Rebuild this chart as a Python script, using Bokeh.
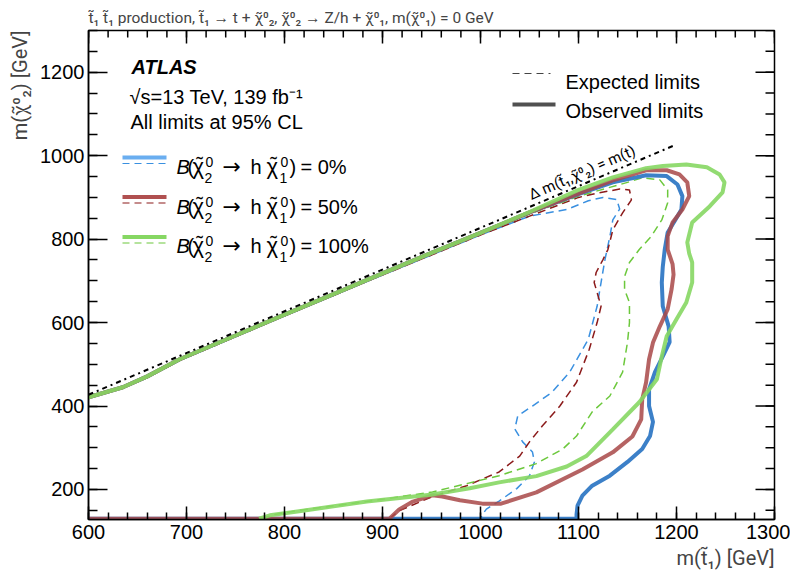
import math
from bokeh.plotting import figure
from bokeh.models import Range1d, Label, FixedTicker, Title
from bokeh.embed import file_html
from bokeh.resources import INLINE

FONT = "Liberation Sans"
FONT_T = "Roboto"   # for strings with combining tildes

# ---------------- data (GeV) ----------------
x_ticks = [600, 700, 800, 900, 1000, 1100, 1200, 1300]
x_minor = list(range(600, 1301, 20))
y_ticks = [200, 400, 600, 800, 1000, 1200]
y_minor = list(range(150, 1301, 50))

kin_x = [600, 1198]
kin_y = [427, 1025]

obs0_x = [600, 635, 660, 693, 750, 800, 850, 900, 950, 1000, 1050, 1100, 1135, 1169, 1190, 1201, 1206,
          1205, 1198, 1191, 1188, 1186, 1185, 1186, 1192, 1193, 1186, 1178, 1172, 1172, 1176, 1173, 1165,
          1150, 1132, 1114, 1104, 1099, 1098, 1098, 600]
obs0_y = [421, 445, 471, 512, 569, 619, 668, 718, 767, 815, 864, 908, 936, 953, 951, 931, 903,
          871, 843, 816, 775, 734, 696, 639, 591, 553, 519, 481, 440, 400, 362, 328, 297,
          266, 233, 209, 185, 161, 140, 130, 130]

obs50_x = [600, 907, 917, 931, 951, 961, 979, 1002, 1021, 1057, 1104, 1135, 1155, 1164, 1165, 1169,
           1172, 1176, 1183, 1191, 1195, 1197, 1196, 1191, 1191, 1196, 1206, 1213, 1211, 1203, 1190,
           1169, 1135, 1100, 1050, 1000, 950, 900, 850, 800, 750, 693, 660, 635, 600]
obs50_y = [130, 130, 152, 171, 186, 183, 174, 166, 166, 193, 248, 289, 327, 368, 416, 457,
           512, 552, 591, 632, 680, 715, 740, 775, 807, 840, 871, 903, 936, 955, 965,
           965, 941, 909, 864, 815, 767, 718, 668, 619, 569, 512, 471, 445, 421]

obs100_x = [774, 785, 815, 884, 951, 989, 1019, 1057, 1088, 1108, 1135, 1162, 1180, 1185, 1190, 1200,
            1210, 1216, 1216, 1213, 1211, 1216, 1234, 1247, 1249, 1244, 1231, 1210, 1186, 1169, 1135,
            1100, 1050, 1000, 950, 900, 850, 800, 750, 693, 660, 635, 600]
obs100_y = [130, 138, 148, 171, 188, 203, 217, 232, 255, 280, 344, 409, 464, 519, 567, 608,
            648, 696, 744, 765, 792, 840, 879, 912, 936, 955, 972, 979, 975, 970, 948,
            918, 865, 815, 767, 718, 668, 619, 569, 512, 471, 445, 421]

exp0_x = [600, 635, 660, 693, 750, 800, 850, 900, 950, 1000, 1050, 1088, 1110, 1125, 1139, 1142, 1135,
          1132, 1127, 1123, 1119, 1110, 1091, 1073, 1053, 1038, 1035, 1043, 1053, 1055, 1050, 1037,
          1019, 1006, 1001, 1001, 1012]
exp0_y = [419, 443, 468, 509, 566, 616, 665, 714, 762, 810, 855, 871, 892, 900, 895, 872, 846,
          806, 751, 696, 639, 560, 481, 433, 400, 376, 345, 314, 290, 266, 233, 202,
          172, 153, 137, 130, 130]

exp50_x = [907, 917, 951, 986, 1019, 1040, 1050, 1063, 1081, 1098, 1111, 1119, 1123, 1119, 1116, 1118,
           1125, 1130, 1135, 1145, 1154, 1152, 1142, 1121, 1100, 1050, 1000, 950, 900, 850, 800, 750,
           693, 660, 635, 600]
exp50_y = [130, 149, 183, 209, 242, 280, 314, 352, 400, 457, 536, 600, 639, 672, 696, 720,
           751, 775, 822, 863, 894, 918, 920, 911, 900, 855, 810, 762, 714, 665, 616, 566,
           509, 468, 443, 419]

exp100_x = [777, 790, 815, 884, 951, 1019, 1057, 1084, 1098, 1114, 1132, 1145, 1150, 1152, 1152, 1147,
            1147, 1152, 1162, 1174, 1185, 1191, 1191, 1183, 1165, 1150, 1100, 1050, 1000, 950, 900,
            850, 800, 750, 693, 660, 635, 600]
exp100_y = [130, 140, 150, 171, 194, 233, 262, 297, 328, 386, 424, 481, 553, 600, 648, 679,
            710, 744, 775, 806, 846, 887, 918, 942, 947, 936, 903, 860, 812, 764, 716,
            667, 618, 568, 510, 469, 444, 420]

branching = ["0%", "50%", "100%"]

BLUE, RED, GREEN = "#3c80c8", "#a84848", "#86d763"
BLUE_D, RED_D, GREEN_D = "#3a90e0", "#8b1a1a", "#6cc83c"
BLUE_L, RED_L, GREEN_L = "#6aaef0", "#b05050", "#86d763"

chi2 = "\u03c7\u0303\u2070\u2082"
chi1 = "\u03c7\u0303\u2070\u2081"
t1 = "t\u0303\u2081"

# ---------------- figure ----------------
p = figure(frame_width=686, frame_height=489,
           x_range=Range1d(600, 1300), y_range=Range1d(128, 1300),
           output_backend="svg", toolbar_location=None,
           min_border_left=88, min_border_right=16, min_border_top=30, min_border_bottom=30)
p.xgrid.visible = False
p.ygrid.visible = False
p.outline_line_color = "black"
p.outline_line_width = 1.5
p.border_fill_color = "white"

p.title.text = f"{t1} {t1} production, {t1} \u2192 t + {chi2}, {chi2} \u2192 Z/h + {chi1}, m({chi1}) = 0 GeV"
p.title.text_font = FONT_T
p.title.text_font_size = "15.5px"
p.title.text_font_style = "normal"
p.title.align = "left"
p.title.standoff = 8
p.title.offset = 0

for ax, ticks, minor, mj, mn in [(p.xaxis[0], x_ticks, x_minor, 13, 7), (p.yaxis[0], y_ticks, y_minor, 19, 9)]:
    ax.ticker = FixedTicker(ticks=ticks, minor_ticks=minor)
    ax.major_tick_in = mj
    ax.major_tick_out = 0
    ax.minor_tick_in = mn
    ax.minor_tick_out = 0
    ax.axis_line_width = 1.5
    ax.major_tick_line_width = 1.5
    ax.minor_tick_line_width = 1.5
    ax.major_label_text_font = FONT
    ax.major_label_text_font_size = "20px"
    ax.major_label_text_color = "black"
p.xaxis[0].major_label_standoff = 5
p.yaxis[0].major_label_standoff = 4

# axis titles, right/top aligned as in ROOT
p.add_layout(Title(text=f"m({t1}) [GeV]", align="right", text_font=FONT_T, text_font_size="20px",
                   text_font_style="normal", standoff=4, offset=0), "below")
p.add_layout(Title(text=f"m({chi2}) [GeV]", align="right", text_font=FONT_T, text_font_size="20px",
                   text_font_style="normal", standoff=11, offset=0), "left")

PX_X = 0.98            # px per GeV along x
PX_Y = 489 / 1172      # px per GeV along y


# screen px -> data helpers (layout only)
def dx(px):
    return 600 + (px - 89) / PX_X


def dy(py):
    return 128 + (520 - py) / PX_Y


# mirrored inward ticks on top and right edges
top_y, right_x = 1300, 1300
p.segment(x0=x_ticks, y0=[top_y] * len(x_ticks), x1=x_ticks, y1=[top_y - 13 / PX_Y] * len(x_ticks),
          line_color="black", line_width=1.5)
p.segment(x0=x_minor, y0=[top_y] * len(x_minor), x1=x_minor, y1=[top_y - 7 / PX_Y] * len(x_minor),
          line_color="black", line_width=1.5)
p.segment(x0=[right_x] * len(y_ticks), y0=y_ticks, x1=[right_x - 19 / PX_X] * len(y_ticks), y1=y_ticks,
          line_color="black", line_width=1.5)
p.segment(x0=[right_x] * len(y_minor), y0=y_minor, x1=[right_x - 9 / PX_X] * len(y_minor), y1=y_minor,
          line_color="black", line_width=1.5)

DASH = "8 5"
p.line(exp0_x, exp0_y, line_color=BLUE_D, line_width=1.5, line_dash=DASH)
p.line(exp50_x, exp50_y, line_color=RED_D, line_width=1.5, line_dash=DASH)
p.line(exp100_x, exp100_y, line_color=GREEN_D, line_width=1.5, line_dash=DASH)

p.line(obs0_x, obs0_y, line_color=BLUE, line_width=4)
p.line(obs50_x, obs50_y, line_color=RED, line_width=4, line_alpha=0.85)
p.line(obs100_x, obs100_y, line_color=GREEN, line_width=4, line_alpha=0.9)

p.line(kin_x, kin_y, line_color="black", line_width=2, line_dash="5 4 2 4")


def lab(text, px, py, size="20px", align="left", baseline="alphabetic", angle=0.0, style="normal", font=FONT):
    p.add_layout(Label(x=dx(px), y=dy(py), text=text, text_font=font, text_font_size=size,
                       text_align=align, text_baseline=baseline, angle=angle,
                       text_font_style=style, text_color="black"))


lab("ATLAS", 132, 67, style="bold italic")
lab("\u221as=13 TeV, 139 fb\u207b\u00b9", 130, 97)
lab("All limits at 95% CL", 131, 122)
lab(f"\u0394 m({t1},{chi2}) = m(t)", 530, 196, size="15px", angle=0.41, font=FONT_T)

p.line([dx(513), dx(551)], [dy(74), dy(74)], line_color="#444444", line_width=1.2, line_dash="7 5")
p.line([dx(513), dx(556)], [dy(105), dy(105)], line_color="#505050", line_width=4)
lab("Expected limits", 566, 82)
lab("Observed limits", 566, 111)

# left legend: B(chi2 -> h chi1) = X%, built from pieces with stacked indices
rows = [(BLUE_L, BLUE_D, 158, 167), (RED_L, RED_D, 197.5, 207), (GREEN_L, GREEN_D, 237.5, 246)]
for (solid_c, dash_c, ys, yb), pct in zip(rows, branching):
    p.line([dx(123), dx(167)], [dy(ys), dy(ys)], line_color=solid_c, line_width=4)
    p.line([dx(123), dx(167)], [dy(ys + 6), dy(ys + 6)], line_color=dash_c, line_width=1.2, line_dash="7 5")
    lab("B", 177, yb, style="italic")
    lab("(", 188, yb)
    lab("\u03c7", 193, yb, size="22px")
    lab("\u02dc", 200, yb - 3, align="center")
    lab("0", 206, yb - 5, size="14px")
    lab("2", 205, yb + 11, size="14px")
    lab("\u2192", 223, yb, size="22px", font="DejaVu Sans")
    lab("h", 251, yb)
    lab("\u03c7", 267, yb, size="22px")
    lab("\u02dc", 274, yb - 3, align="center")
    lab("0", 281, yb - 5, size="14px")
    lab("1", 280, yb + 11, size="14px")
    lab(")", 290, yb)
    lab(f"= {pct}", 301, yb)

open("out.html", "w").write(file_html(p, INLINE))
